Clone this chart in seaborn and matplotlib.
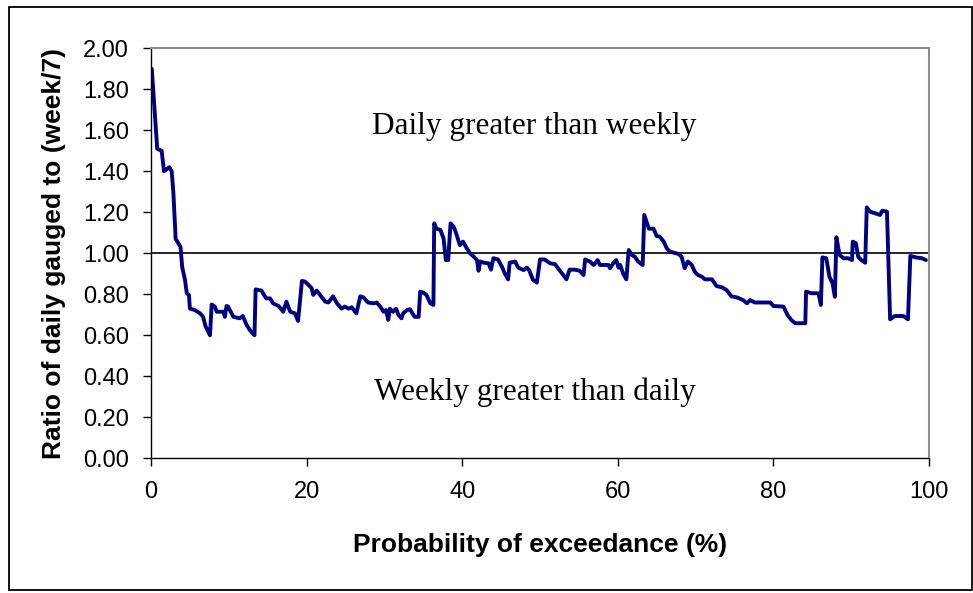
import numpy as np
import pandas as pd
import matplotlib
matplotlib.use("Agg")
import matplotlib.pyplot as plt
from matplotlib.patches import Rectangle
import seaborn as sns

# 数据
exceedance = [0.1, 0.8, 1.37, 1.67, 2.35, 2.66, 2.87, 3.17, 3.5, 3.8, 4.0, 4.37, 4.6, 4.88, 5.0,
              5.65, 6.3, 6.7, 7.0, 7.58, 7.8, 8.2, 8.45, 9.3, 9.5, 9.7, 9.9, 10.6, 11.4, 11.8,
              12.3, 12.7, 13.3, 13.45, 14.2, 14.8, 15.3, 15.7, 16.4, 17.0, 17.4, 17.9, 18.5, 18.9,
              19.4, 19.8, 20.65, 20.85, 21.3, 22.4, 22.8,
              23.4, 23.9, 24.5, 24.9, 25.4, 25.8, 26.4, 26.9, 27.3, 27.9, 28.6, 29.0, 29.4, 29.9,
              30.2, 30.5, 30.7, 31.1, 31.5, 31.8, 32.2, 32.4, 32.9, 33.3, 33.6, 33.9, 34.4, 34.6,
              35.0, 35.4, 35.9, 36.3, 36.4, 36.7, 37.2, 37.6, 37.9, 38.2, 38.5, 38.9, 39.2, 39.7,
              40.1, 40.6, 41.0, 41.4, 41.9, 42.1, 42.3, 42.8, 43.4, 43.7, 44.0, 44.6, 45.1, 45.5,
              45.9, 46.1, 46.8, 47.2,
              47.9, 48.3, 48.6, 49.1, 49.6, 50.0, 50.6, 51.3, 51.9, 52.5, 53.0, 53.4, 53.8, 54.5,
              55.1, 55.6, 55.8, 56.4, 56.9, 57.4, 57.7, 58.8, 59.0, 59.4, 59.8, 60.1, 60.3, 60.7,
              61.1, 61.4, 61.8, 62.2, 62.6, 63.2, 63.4, 63.7, 64.0, 64.6, 65.0, 65.4, 65.9, 66.3,
              66.7, 67.2, 67.8, 68.2, 68.6, 69.0, 69.5, 69.9, 70.3,
              70.8, 71.2, 72.1, 72.7, 73.4, 74.0, 74.6, 75.3, 76.1, 76.6, 77.0, 77.6, 79.6, 80.0,
              81.3, 81.8, 82.3, 82.8, 84.1, 84.2, 84.9, 85.8, 86.1, 86.3, 86.8, 87.2, 87.6, 87.9,
              88.1, 88.5, 89.0, 89.6, 90.1, 90.2, 90.6, 90.9, 91.3, 91.8, 92.0, 92.4, 93.1, 93.7,
              94.0, 94.6, 95.0, 95.6, 96.7, 97.3, 97.6, 98.3, 99.1, 99.6]
ratio = [1.90, 1.51, 1.50, 1.40, 1.42, 1.40, 1.30, 1.07, 1.05, 1.03, 0.935, 0.87, 0.805, 0.797, 0.73,
         0.723, 0.707, 0.69, 0.645, 0.60, 0.75, 0.74, 0.715, 0.715, 0.69, 0.743, 0.74, 0.69, 0.683, 0.694,
         0.65, 0.626, 0.60, 0.824, 0.818, 0.78, 0.78, 0.756, 0.743, 0.715, 0.764, 0.715, 0.707, 0.67,
         0.865, 0.862, 0.83, 0.797, 0.818, 0.764, 0.76,
         0.79, 0.756, 0.73, 0.74, 0.73, 0.737, 0.707, 0.79, 0.785, 0.76, 0.756, 0.76, 0.743, 0.715,
         0.723, 0.675, 0.73, 0.715, 0.73, 0.70, 0.683, 0.707, 0.723, 0.727, 0.707, 0.69, 0.69, 0.813,
         0.808, 0.797, 0.756, 0.748, 1.146, 1.12, 1.114, 1.073, 0.967, 0.967, 1.146, 1.13, 1.10, 1.04,
         1.057, 1.024, 1.0, 0.987, 0.967, 0.915, 0.96, 0.954, 0.951, 0.92, 0.976, 0.97, 0.935, 0.90,
         0.873, 0.954, 0.96, 0.93,
         0.918, 0.93, 0.918, 0.87, 0.857, 0.97, 0.97, 0.951, 0.948, 0.918, 0.894, 0.873, 0.92, 0.92,
         0.915, 0.894, 0.97, 0.96, 0.943, 0.967, 0.943, 0.943, 0.927, 0.951, 0.967, 0.93, 0.943, 0.90,
         0.873, 1.016, 0.992, 0.983, 0.96, 0.943, 1.187, 1.154, 1.12, 1.12, 1.084, 1.081, 1.057, 1.024,
         1.008, 1.003, 0.997, 0.983, 0.927, 0.96, 0.943, 0.91, 0.894,
         0.886, 0.873, 0.873, 0.84, 0.834, 0.82, 0.79, 0.785, 0.772, 0.756, 0.772, 0.76, 0.76, 0.743,
         0.74, 0.70, 0.675, 0.659, 0.659, 0.813, 0.805, 0.805, 0.748, 0.98, 0.976, 0.886, 0.854, 0.788,
         1.078, 0.992, 0.976, 0.976, 0.967, 1.057, 1.049, 0.983, 0.967, 0.954, 1.224, 1.203, 1.195, 1.187,
         1.208, 1.203, 0.678, 0.694, 0.694, 0.678, 0.987, 0.98, 0.976, 0.967]

x_ticks = [0, 20, 40, 60, 80, 100]
y_ticks = [0.0, 0.2, 0.4, 0.6, 0.8, 1.0, 1.2, 1.4, 1.6, 1.8, 2.0]
upper_text = "Daily greater than weekly"
lower_text = "Weekly greater than daily"

df = pd.DataFrame({"exceedance": exceedance, "ratio": ratio})

# 样式
sns.set_style("white")
plt.rcParams["font.family"] = ["Liberation Sans", "DejaVu Sans"]
plt.rcParams["text.color"] = "black"
plt.rcParams["axes.labelcolor"] = "black"
plt.rcParams["xtick.color"] = "black"
plt.rcParams["ytick.color"] = "black"

fig = plt.figure(figsize=(9.73, 5.93), dpi=100)
ax = fig.add_axes([151 / 973, 1 - 458.3 / 593, (929 - 151) / 973, (458.3 - 48.3) / 593])

sns.lineplot(data=df, x="exceedance", y="ratio", color="#000080", linewidth=2.8,
             estimator=None, sort=False, ax=ax)
ax.axhline(1.0, color="black", linewidth=1.2, zorder=1)

ax.set_xlim(0, 100)
ax.set_ylim(0, 2)
ax.set_xticks(x_ticks)
ax.set_yticks(y_ticks)
ax.set_yticklabels([f"{v:.2f}" for v in y_ticks])
ax.tick_params(axis="both", direction="out", length=6, width=1, color="black",
               labelsize=17, pad=10, left=True, bottom=True)

for side in ["top", "right"]:
    ax.spines[side].set_color("#8c8c8c")
    ax.spines[side].set_linewidth(1.5)
for side in ["left", "bottom"]:
    ax.spines[side].set_color("black")
    ax.spines[side].set_linewidth(1.0)

ax.set_xlabel("Probability of exceedance (%)", fontsize=19, fontweight="bold", labelpad=22)
ax.set_ylabel("Ratio of daily gauged to (week/7)", fontsize=19, fontweight="bold", labelpad=12)

ax.text(49.2, 1.62, upper_text, family="Liberation Serif", fontsize=22.5, ha="center", va="center")
ax.text(49.4, 0.32, lower_text, family="Liberation Serif", fontsize=22.5, ha="center", va="center")

# 外边框
fig.patches.append(Rectangle((8.5 / 973, 1 - 590 / 593), (972 - 8.5) / 973, (590 - 6.7) / 593,
                             transform=fig.transFigure, fill=False, edgecolor="black", linewidth=1.3))

fig.savefig("out.png", dpi=100)
